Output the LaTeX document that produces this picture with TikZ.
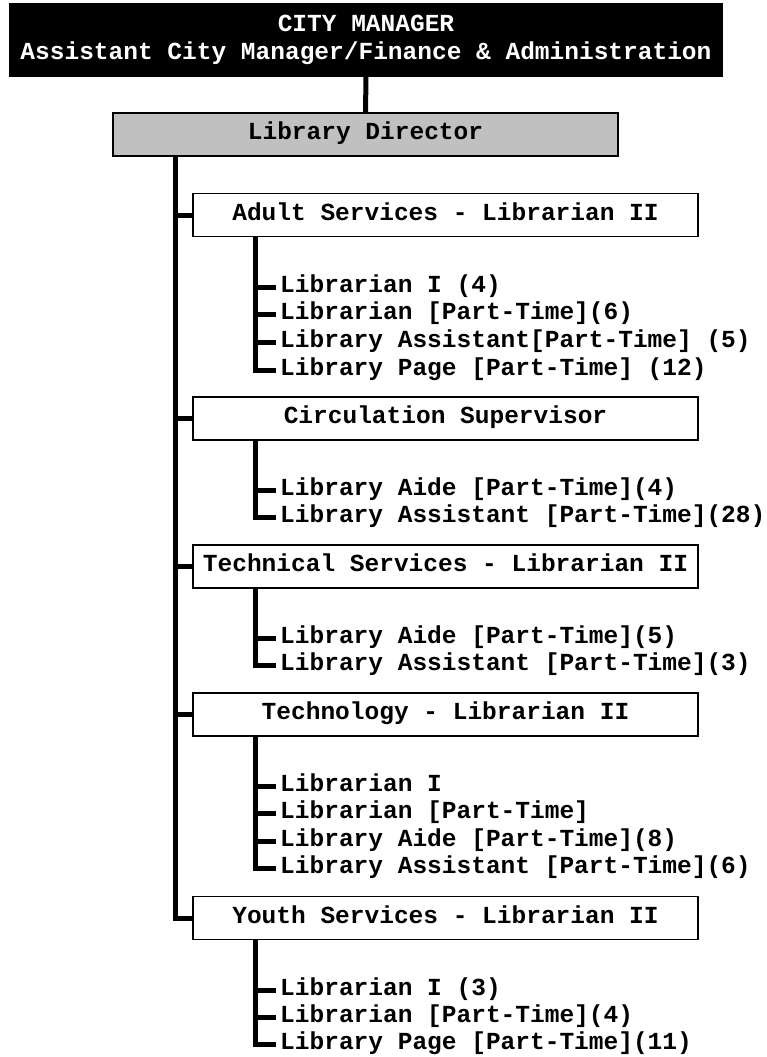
\documentclass[tikz,border=0pt]{standalone}
\usepackage{fontspec}
\setmainfont{Liberation Mono}
\definecolor{libgray}{RGB}{192,192,192}
\begin{document}
\begin{tikzpicture}[x=1pt,y=-1pt,
  every node/.style={font=\fontsize{24.5}{28}\selectfont\bfseries},
  box/.style={draw=black, line width=1.3pt, rectangle, inner sep=0pt,
    text height=10pt, text depth=0pt, minimum height=43pt, minimum width=505pt},
  topbox/.style={draw=black, fill=black, text=white, line width=1.3pt, rectangle,
    inner sep=0pt, align=center, minimum width=712pt, minimum height=72pt},
  conn/.style={line width=5pt, line join=miter},
  item/.style={inner sep=0pt, text height=10pt, text depth=0pt, anchor=west},
  tick/.style={conn, shorten >=4pt}]
\useasboundingbox (0,0) rectangle (767,1057);

% boxes
\node[topbox] (cm) at (366,40) {CITY MANAGER\\Assistant City Manager/Finance \& Administration};
\node[box, fill=libgray] (ld) at (365.5,134.5) {Library Director};
\node[box] (adult) at (445.5,215) {Adult Services - Librarian II};
\node[box] (circ) at (445.5,418.5) {Circulation Supervisor};
\node[box] (tech) at (445.5,566.5) {Technical Services - Librarian II};
\node[box] (techn) at (445.5,714.5) {Technology - Librarian II};
\node[box] (youth) at (445.5,918) {Youth Services - Librarian II};

% items
\node[item] (a1) at (280,287) {Librarian I (4)};
\node[item] (a2) at (280,314.7) {Librarian [Part-Time](6)};
\node[item] (a3) at (280,342.4) {Library Assistant[Part-Time] (5)};
\node[item] (a4) at (280,370.1) {Library Page [Part-Time] (12)};

\node[item] (c1) at (280,490) {Library Aide [Part-Time](4)};
\node[item] (c2) at (280,517.5) {Library Assistant [Part-Time](28)};

\node[item] (t1) at (280,638) {Library Aide [Part-Time](5)};
\node[item] (t2) at (280,665.5) {Library Assistant [Part-Time](3)};

\node[item] (n1) at (280,786) {Librarian I};
\node[item] (n2) at (280,813.5) {Librarian [Part-Time]};
\node[item] (n3) at (280,841) {Library Aide [Part-Time](8)};
\node[item] (n4) at (280,868.5) {Library Assistant [Part-Time](6)};

\node[item] (y1) at (280,990) {Librarian I (3)};
\node[item] (y2) at (280,1017) {Librarian [Part-Time](4)};
\node[item] (y3) at (280,1044) {Library Page [Part-Time](11)};

% connectors
\coordinate (mx) at (175.5,0);
\coordinate (sx) at (255,0);
\draw[conn] (cm.south) -- (ld.north);
\draw[conn] (ld.south -| mx) |- (youth.west);
\foreach \b in {adult,circ,tech,techn}
  \draw[conn] (\b.west -| mx) -- (\b.west);

\draw[tick] (adult.south -| sx) |- (a4.west);
\foreach \i in {a1,a2,a3} \draw[tick] (\i.west -| sx) -- (\i.west);
\draw[tick] (circ.south -| sx) |- (c2.west);
\draw[tick] (c1.west -| sx) -- (c1.west);
\draw[tick] (tech.south -| sx) |- (t2.west);
\draw[tick] (t1.west -| sx) -- (t1.west);
\draw[tick] (techn.south -| sx) |- (n4.west);
\foreach \i in {n1,n2,n3} \draw[tick] (\i.west -| sx) -- (\i.west);
\draw[tick] (youth.south -| sx) |- (y3.west);
\foreach \i in {y1,y2} \draw[tick] (\i.west -| sx) -- (\i.west);
\end{tikzpicture}
\end{document}
